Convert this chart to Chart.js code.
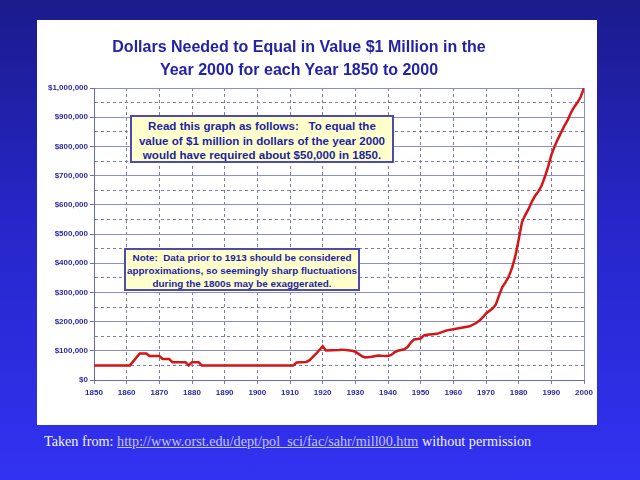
<!DOCTYPE html>
<html>
<head>
<meta charset="utf-8">
<script src="https://cdn.jsdelivr.net/npm/chart.js@4/dist/chart.umd.min.js"></script>
<style>
  html, body { margin: 0; padding: 0; }
  body {
    width: 640px; height: 480px; overflow: hidden; position: relative;
    background: linear-gradient(to bottom, #1b1b8c 0%, #2626c8 45%, #3232f2 100%);
    font-family: "Liberation Sans", Arial, sans-serif;
  }
  #panel {
    position: absolute; left: 37px; top: 20px; width: 560px; height: 405px;
    background: #ffffff;
  }
  #panel canvas { position: absolute; left: 0; top: 0; }
  #title {
    position: absolute; left: 62px; top: 15px; width: 400px;
    text-align: center; color: #2323a8; font-weight: bold;
    font-size: 16px; line-height: 23px; white-space: nowrap;
  }
  .note {
    position: absolute; box-sizing: border-box;
    background: #ffffcc; border: 2px solid #4c4cac;
    color: #1e1ea6; font-weight: bold; text-align: center;
    white-space: nowrap;
  }
  #note1 { left: 93px; top: 95px; width: 264px; height: 48px; font-size: 11.6px; line-height: 14.5px; padding-top: 2px; }
  #note2 { left: 87px; top: 228px; width: 236px; height: 43px; font-size: 9.9px; line-height: 13px; padding-top: 1px; }
  #source {
    position: absolute; left: 44px; top: 433px;
    font-family: "Liberation Serif", "Times New Roman", serif; font-size: 14.2px;
    color: #f2f2ff; white-space: nowrap;
  }
  #source a { color: #c4c4ff; text-decoration: underline; }
</style>
</head>
<body>
<div id="panel">
  <canvas id="chart" width="560" height="405"></canvas>
  <div id="title"></div>
  <div class="note" id="note1">Read this graph as follows:&nbsp;&nbsp;&nbsp;To equal the<br>value of $1 million in dollars of the year 2000<br>would have required about $50,000 in 1850.</div>
  <div class="note" id="note2">Note:&nbsp; Data prior to 1913 should be considered<br>approximations, so seemingly sharp fluctuations<br>during the 1800s may be exaggerated.</div>
</div>
<div id="source">Taken from: <a href="#">http://www.orst.edu/dept/pol_sci/fac/sahr/mill00.htm</a> without permission</div>

<script>
// years where the curve changes direction, and dollars needed in that year
const years = [1850, 1861, 1864, 1866, 1867, 1870, 1871, 1873, 1874, 1878, 1879, 1880, 1882, 1883,
  1911, 1912, 1915, 1916, 1918, 1920, 1921, 1925, 1926, 1929, 1930, 1932, 1933, 1935, 1937, 1938,
  1940, 1941, 1942, 1943, 1945, 1946, 1947, 1948, 1950, 1951, 1952, 1955, 1958, 1960, 1965, 1967,
  1968, 1969, 1970, 1972, 1973, 1974, 1975, 1976, 1977, 1978, 1979, 1980, 1981, 1982, 1983, 1984,
  1985, 1986, 1987, 1988, 1989, 1990, 1991, 1992, 1993, 1994, 1995, 1996, 1997, 1998, 1999, 2000];
const dollars = [50000, 50000, 91000, 91000, 82000, 82000, 72000, 72000, 61000, 61000, 50000, 61000, 61000, 50000,
  50000, 60000, 62000, 68000, 90000, 116000, 101000, 103000, 104000, 100000, 97000, 82000, 77000, 80000, 84000, 83000,
  82000, 86000, 95000, 100000, 105000, 113000, 128000, 139000, 142000, 153000, 155000, 158000, 170000, 174000, 184000, 195000,
  204000, 214000, 228000, 245000, 258000, 290000, 318000, 335000, 355000, 385000, 425000, 480000, 540000, 565000, 585000, 610000,
  630000, 645000, 665000, 695000, 730000, 770000, 800000, 825000, 848000, 870000, 890000, 915000, 935000, 950000, 970000, 1000000];

const yearTicks = [1850, 1860, 1870, 1880, 1890, 1900, 1910, 1920, 1930, 1940, 1950, 1960, 1970, 1980, 1990, 2000];
const titleLines = ['Dollars Needed to Equal in Value $1 Million in the', 'Year 2000 for each Year 1850 to 2000'];

document.getElementById('title').innerHTML = titleLines.join('<br>');

const tickFont = { family: 'Liberation Sans', size: 8, weight: 'bold' };
const tickColor = '#2a2aa4';
const solidGrid = '#8c8cd0';
const dashGrid = '#7c7cac';

new Chart(document.getElementById('chart'), {
  type: 'line',
  data: {
    datasets: [{
      data: years.map((y, i) => ({ x: y, y: dollars[i] })),
      borderColor: '#d41515',
      borderWidth: 2.5,
      pointRadius: 0,
      tension: 0,
      fill: false
    }]
  },
  options: {
    responsive: false,
    animation: false,
    layout: { padding: { left: 0, right: 13, top: 68, bottom: 0 } },
    plugins: {
      legend: { display: false },
      tooltip: { enabled: false },
      title: { display: false }
    },
    scales: {
      x: {
        type: 'linear',
        min: 1850,
        max: 2000,
        afterBuildTicks: (scale) => { scale.ticks = yearTicks.map(v => ({ value: v })); },
        afterFit: (scale) => { scale.height = 45; },
        ticks: {
          font: tickFont, color: tickColor, maxRotation: 0, autoSkip: false, padding: 4,
          callback: (v) => String(v)
        },
        grid: {
          color: (ctx) => (ctx.tick && ctx.tick.value === 2000) ? solidGrid : dashGrid,
          lineWidth: 1,
          tickLength: 4,
          tickColor: dashGrid
        },
        border: {
          color: '#6a6ab8',
          width: 1,
          dash: (ctx) => (ctx.tick && ctx.tick.value > 1850 && ctx.tick.value < 2000) ? [3, 3] : []
        }
      },
      y: {
        min: 0,
        max: 1000000,
        afterFit: (scale) => { scale.width = 57; },
        ticks: {
          stepSize: 50000,
          font: tickFont,
          color: tickColor,
          padding: 2,
          callback: (v) => v % 100000 === 0 ? '$' + v.toLocaleString('en-US') : ''
        },
        grid: {
          color: (ctx) => (ctx.tick && ctx.tick.value % 100000 !== 0) ? dashGrid : solidGrid,
          lineWidth: 1,
          tickLength: 4,
          tickColor: (ctx) => (ctx.tick && ctx.tick.value % 100000 !== 0) ? 'rgba(0,0,0,0)' : '#6a6ab8'
        },
        border: {
          color: '#6a6ab8',
          width: 1,
          dash: (ctx) => (ctx.tick && ctx.tick.value % 100000 !== 0) ? [3, 3] : []
        }
      }
    }
  }
});
</script>
</body>
</html>
